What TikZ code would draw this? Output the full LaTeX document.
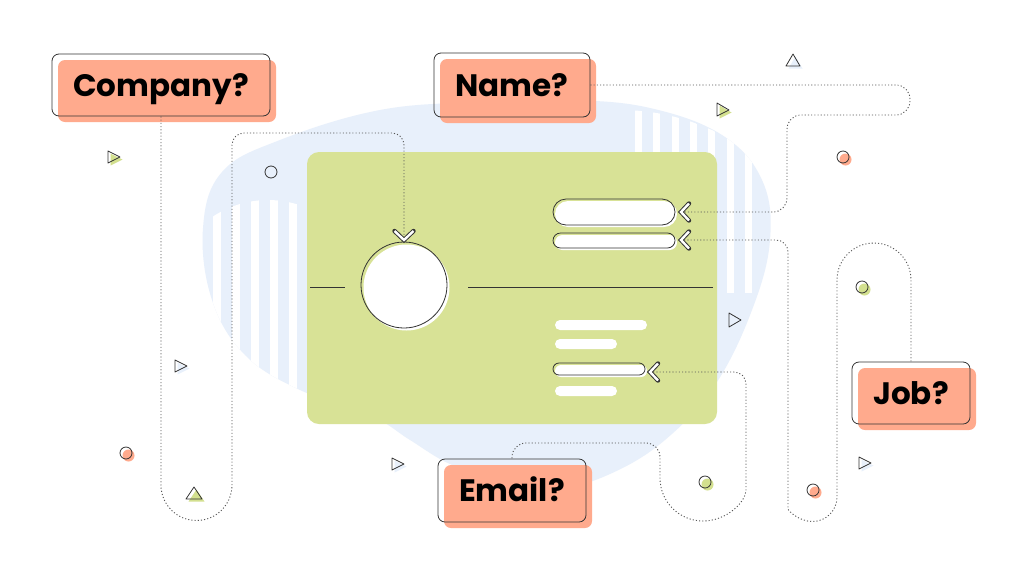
\documentclass[tikz,border=0pt]{standalone}
\usepackage{fontspec}
\newfontfamily\pop{Poppins}
\usetikzlibrary{calc}
\definecolor{salmon}{HTML}{FFAA8D}
\definecolor{cardgreen}{HTML}{D8E296}
\definecolor{decogreen}{HTML}{D3E08F}
\definecolor{blobblue}{HTML}{E8F0FB}
\definecolor{ink}{HTML}{333333}
\definecolor{linegray}{HTML}{555555}
\newcommand\decotri[2]{\fill[#1, shift={(2.5,2.5)}] #2 -- cycle; \draw[deco] #2 -- cycle;}
\newcommand\decocirc[2]{\fill[#1, shift={(2.5,2.5)}] #2 circle[radius=6]; \draw[deco] #2 circle[radius=6];}
\newcommand\tagbox[6]{%
  \node[tagfill, minimum width=#4pt, minimum height=#5pt, xshift=6pt, yshift=-6pt] at (#2,#3) {};
  \node[tag, minimum width=#4pt, minimum height=#5pt] (#1) at (#2,#3) {#6};}
\newcommand\outbar[5]{%
  \node[barfill=#5, minimum width=#3pt, minimum height=#4pt, xshift=2pt, yshift=-2pt] at #2 {};
  \node[barline=#5, minimum width=#3pt, minimum height=#4pt] (#1) at #2 {};}
\newcommand\chev[3]{%
  \draw[line width=4.4pt, ink, line cap=round, line join=miter] #2 -- #1 -- #3;
  \draw[line width=2.4pt, white, line cap=butt, line join=miter] #2 -- #1 -- #3;}
\def\blobpath{plot[smooth cycle, tension=0.65] coordinates {
  (203,228) (222,172) (280,140) (380,110) (480,102) (570,100) (650,108) (722,135)
  (762,180) (770,240) (752,310) (715,385) (665,440) (610,474) (560,487) (500,480)
  (450,464) (410,440) (370,415) (300,390) (245,355) (212,300)}}
\begin{document}
\begin{tikzpicture}[x=1pt,y=-1pt,
  dotline/.style={draw=linegray, line width=0.9pt, dash pattern=on 1.1pt off 2.1pt},
  tagfill/.style={fill=salmon, rounded corners=7pt, inner sep=0pt},
  tag/.style={draw=ink, line width=0.8pt, rounded corners=7pt, inner sep=0pt,
    font=\pop\bfseries\fontsize{31}{31}\selectfont, text height=22pt, text depth=0pt},
  barfill/.style={fill=white, rounded corners=#1, inner sep=0pt},
  barline/.style={draw=ink, line width=0.8pt, rounded corners=#1, inner sep=0pt},
  plainbar/.style={fill=white, rounded corners=5pt, inner sep=0pt, minimum height=10pt},
  deco/.style={draw=ink, line width=0.8pt, line join=round},
  rule/.style={draw=ink, line width=0.8pt}]
\useasboundingbox (0,0) rectangle (1024,576);
\fill[white] (0,0) rectangle (1024,576);
% blob
\fill[blobblue] \blobpath;
\begin{scope}
  \clip \blobpath;
  \begin{scope}
    \clip (268,300) circle[radius=100];
    \foreach \x in {213,232,251,270,289} \fill[white] (\x,150) rectangle ++(8,300);
  \end{scope}
  \begin{scope}
    \clip (620,330) circle[radius=220];
    \clip (600,90) rectangle (800,292);
    \foreach \x in {635,653,672,690,708,727,745} \fill[white] (\x,100) rectangle ++(7,400);
  \end{scope}
\end{scope}
% card
\node[fill=cardgreen, rounded corners=12pt, minimum width=410pt, minimum height=272pt, inner sep=0pt] (card) at (512,288) {};
\draw[rule] (310,287) -- (345,287);
\draw[rule] (468,287) -- (713,287);
\node[circle, fill=white, minimum size=86pt, inner sep=0pt] at (406.5,287.5) {};
\node[circle, draw=ink, line width=0.8pt, minimum size=86pt, inner sep=0pt] (avatar) at (404,285) {};
% bars
\outbar{bar1}{(614,212)}{122}{26}{13pt}
\outbar{bar2}{(614,240.5)}{122}{15}{7.5pt}
\node[plainbar, minimum width=92pt] (barA) at (601,325) {};
\node[plainbar, minimum width=62pt] (barB) at (586,344) {};
\outbar{barC}{(599,369)}{92}{12}{6pt}
\node[plainbar, minimum width=62pt] (barD) at (586,391) {};
% chevron tips
\coordinate (t1) at (681,212);
\coordinate (t2) at (681,240);
\coordinate (t3) at (650,372);
\coordinate (t4) at (404,240);
% tags
\tagbox{company}{161}{85}{218}{62}{Company?}
\tagbox{name}{512}{85}{156}{64}{Name?}
\tagbox{job}{911}{393}{118}{62}{Job?}
\tagbox{email}{512}{490.5}{148}{63}{Email?}
% connectors
\draw[dotline] (company.south) -- (161,485) arc[start angle=180, end angle=0, radius=35.5]
  [rounded corners=12pt] -- (232,133) -- (404,133) -- (t4);
\draw[dotline] (name.east) [rounded corners=14pt] -- (910,85) -- (910,115) -- (787,115) -- (787,212) -- (t1);
\draw[dotline] (t2) [rounded corners=12pt] -- (788,240) -- (788,497) [sharp corners]
  arc[start angle=180, end angle=0, radius=24.5] -- (837,280)
  arc[start angle=180, end angle=360, radius=37] -- (job.north);
\draw[dotline] (t3) [rounded corners=12pt] -- (746,372) -- (746,478) [sharp corners]
  arc[start angle=0, end angle=180, radius=43] [rounded corners=14pt] -- (660,443) -- (512,443) -- (email.north);
% chevrons
\chev{(t1)}{(689,203.5)}{(689,220.5)}
\chev{(t2)}{(689,231.5)}{(689,248.5)}
\chev{(t3)}{(658,363.5)}{(658,380.5)}
\chev{(t4)}{(394.5,231)}{(413.5,231)}
% decorations
\decotri{decogreen}{(717,103) -- (717,116) -- (729,110)}
\decotri{decogreen}{(108,151) -- (108,163) -- (120,157)}
\decotri{blobblue}{(175,360) -- (175,372) -- (187,366)}
\decotri{decogreen}{(186,499) -- (202,499) -- (194,487)}
\decotri{blobblue}{(392,458) -- (392,470) -- (404,464)}
\decotri{blobblue}{(729,313) -- (729,327) -- (741,320)}
\decotri{blobblue}{(859,457) -- (859,469) -- (871,463)}
\decotri{blobblue}{(786,66) -- (800,66) -- (793,54)}
\decocirc{blobblue}{(271,172)}
\decocirc{salmon}{(843,157)}
\decocirc{decogreen}{(862,287)}
\decocirc{salmon}{(126,453)}
\decocirc{decogreen}{(705,482)}
\decocirc{salmon}{(813,490)}
\end{tikzpicture}
\end{document}
